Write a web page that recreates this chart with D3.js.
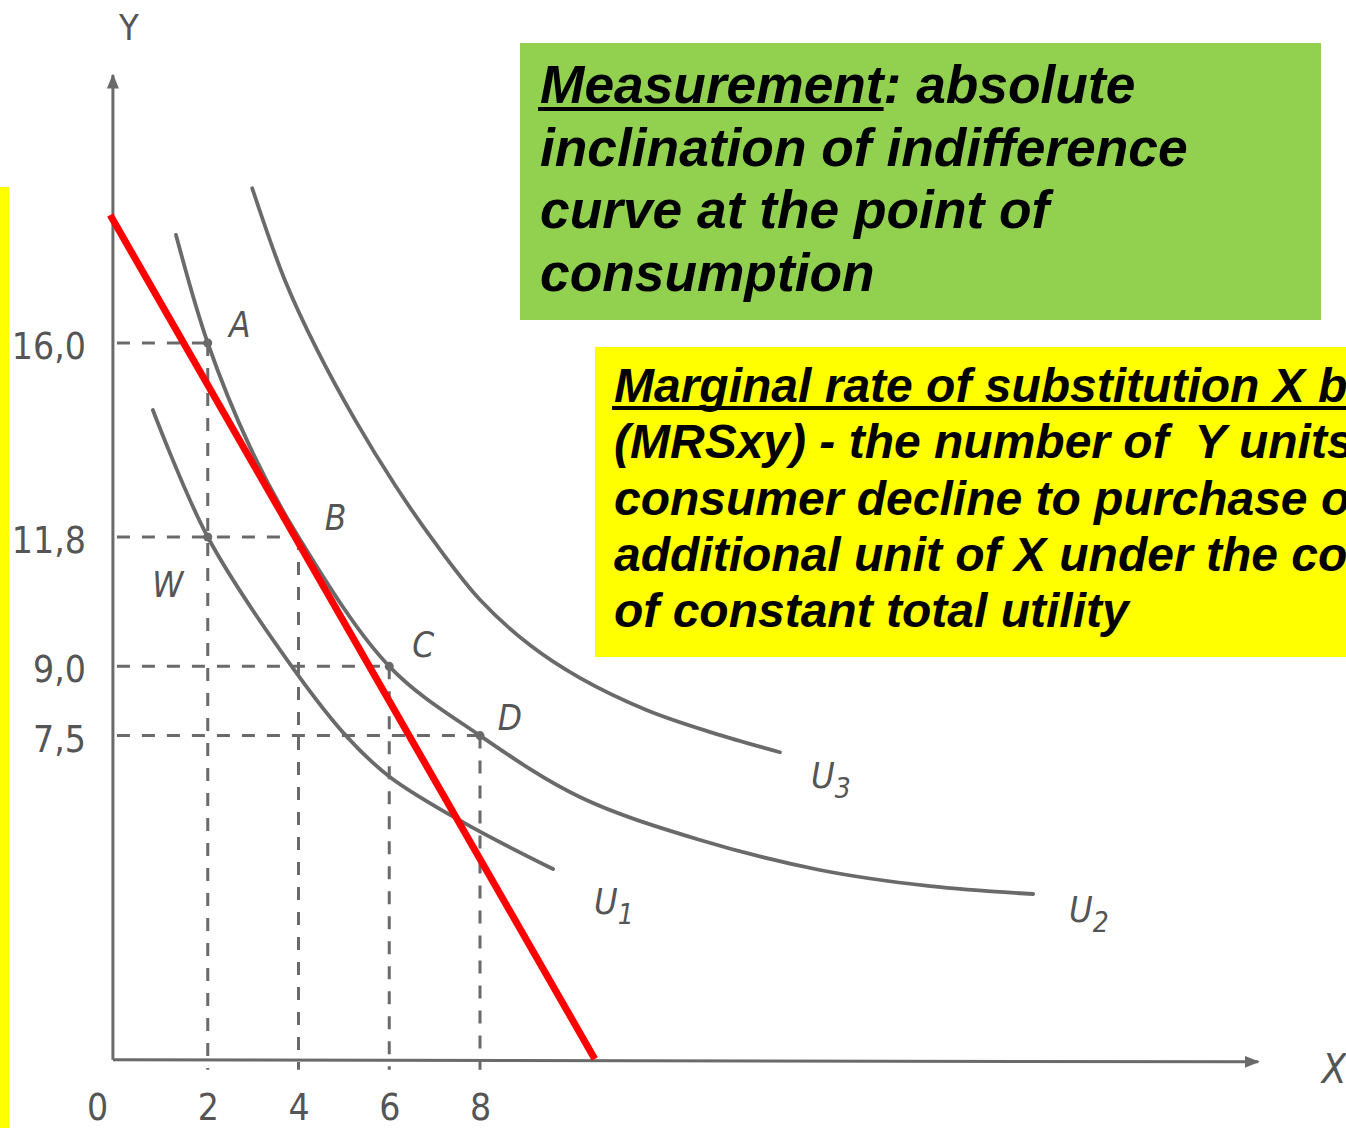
<!DOCTYPE html>
<html>
<head>
<meta charset="utf-8">
<script src="https://cdn.jsdelivr.net/npm/d3@7"></script>
<style>
  html, body { margin: 0; padding: 0; background: #ffffff; overflow: hidden; }
  svg { display: block; }
  .box-text { font-family: "Liberation Sans", Arial, sans-serif; font-weight: bold; font-style: italic; white-space: pre; }
  .scan { font-family: "DejaVu Sans Condensed", "DejaVu Sans", sans-serif; fill: #555555; }
</style>
</head>
<body>
<script>
// ---------------- data ----------------
const xTickValues = [0, 2, 4, 6, 8];
const xTickLabels = ["0", "2", "4", "6", "8"];
const yTickValues = [16.0, 11.8, 9.0, 7.5];
const yTickLabels = ["16,0", "11,8", "9,0", "7,5"];

// indifference curves (X, Y)
const curveU1 = [[0.79, 14.55], [2.0, 11.8], [3.85, 9.0], [5.09, 7.45], [6.02, 6.6], [7.65, 5.61], [9.61, 4.61]];
const curveU2 = [[1.3, 18.34], [2.0, 16.0], [2.93, 13.75], [4.0, 11.8], [6.0, 9.0], [8.0, 7.5], [10.2, 6.17], [12.85, 5.24], [15.49, 4.59], [17.92, 4.24], [20.19, 4.07]];
const curveU3 = [[2.98, 19.35], [3.7, 17.36], [4.41, 15.85], [5.25, 14.33], [6.13, 12.92], [7.01, 11.67], [8.0, 10.44], [9.1, 9.46], [10.2, 8.75], [11.68, 8.05], [13.13, 7.56], [14.61, 7.14]];

// tangent red line endpoints
const redLine = [[-0.15, 18.77], [10.53, 0.5]];

// consumption points
const pointNames = ["A", "B", "C", "D", "W"];
const pointX = [2, 4, 6, 8, 2];
const pointY = [16.0, 11.8, 9.0, 7.5, 11.8];

const curveNames = ["U", "U", "U"];
const curveSubs = ["1", "2", "3"];

const greenLines = [
  ["Measurement", ": absolute"],
  ["", "inclination of indifference"],
  ["", "curve at the point of"],
  ["", "consumption"]
];
const yellowLines = [
  ["Marginal rate of substitution X b", ""],
  ["", "(MRSxy) - the number of  Y units"],
  ["", "consumer decline to purchase o"],
  ["", "additional unit of X under the co"],
  ["", "of constant total utility"]
];

// ---------------- layout ----------------
const W = 1346, H = 1128;
const svg = d3.select("body").append("svg").attr("width", W).attr("height", H);

const x = d3.scaleLinear().domain([0, 8]).range([117, 480]);
const y = d3.scaleLinear().domain([0, 16]).range([1082, 343]);

const gray = "#6a6a6a";
const axisY0 = 0.48;   // data value where the X axis line sits
const axisX0 = -0.09;  // data value where the Y axis line sits

// dashed guide lines
const guides = svg.append("g").attr("stroke", gray).attr("stroke-width", 3)
  .attr("stroke-dasharray", "13,12").attr("fill", "none");
[0, 1, 2, 3].forEach(i => {
  guides.append("line")
    .attr("x1", x(axisX0) + 4).attr("y1", y(pointY[i]))
    .attr("x2", x(pointX[i])).attr("y2", y(pointY[i]));
  guides.append("line")
    .attr("x1", x(pointX[i])).attr("y1", y(pointY[i]))
    .attr("x2", x(pointX[i])).attr("y2", y(axisY0) + 10);
});

// axes lines with arrows
const defs = svg.append("defs");
defs.append("marker").attr("id", "arrow").attr("viewBox", "0 0 10 10")
  .attr("refX", 9).attr("refY", 5).attr("markerWidth", 5).attr("markerHeight", 5)
  .attr("orient", "auto-start-reverse")
  .append("path").attr("d", "M0,1 L10,5 L0,9 Z").attr("fill", gray);

svg.append("line")
  .attr("x1", x(axisX0)).attr("y1", y(axisY0))
  .attr("x2", x(25.15)).attr("y2", y(axisY0) + 2)
  .attr("stroke", gray).attr("stroke-width", 3).attr("marker-end", "url(#arrow)");
svg.append("line")
  .attr("x1", x(axisX0)).attr("y1", y(axisY0))
  .attr("x2", x(axisX0)).attr("y2", y(21.8))
  .attr("stroke", gray).attr("stroke-width", 3).attr("marker-end", "url(#arrow)");

// tick labels via d3 axes
const yAxis = d3.axisLeft(y).tickValues(yTickValues)
  .tickFormat((d, i) => yTickLabels[i]).tickSize(0).tickPadding(27);
const gy = svg.append("g").attr("transform", `translate(${x(axisX0)},0)`).call(yAxis);
gy.select(".domain").remove();
gy.selectAll("text").attr("class", "scan").attr("font-size", 37).attr("dy", "0.42em")
  .attr("fill", "#555555");

const xAxis = d3.axisBottom(x).tickValues(xTickValues)
  .tickFormat((d, i) => xTickLabels[i]).tickSize(0).tickPadding(34);
const gx = svg.append("g").attr("transform", `translate(0,${y(axisY0)})`).call(xAxis);
gx.select(".domain").remove();
gx.selectAll("text").attr("class", "scan").attr("font-size", 37).attr("fill", "#555555");
gx.selectAll(".tick").filter(d => d === 0).select("text").attr("x", -20);

// axis names
svg.append("text").attr("class", "scan").attr("x", x(axisX0) + 16).attr("y", 40)
  .attr("font-size", 36).attr("text-anchor", "middle").text("Y");
svg.append("text").attr("class", "scan").attr("x", 1334).attr("y", 1083)
  .attr("font-size", 40).attr("font-style", "italic").attr("text-anchor", "middle").text("X");

// indifference curves
const line = d3.line().x(d => x(d[0])).y(d => y(d[1])).curve(d3.curveCatmullRom.alpha(0.5));
[curveU1, curveU2, curveU3].forEach(c => {
  svg.append("path").attr("d", line(c)).attr("fill", "none")
    .attr("stroke", gray).attr("stroke-width", 3.8).attr("stroke-linecap", "round");
});

// curve labels
const curveEnds = [curveU1, curveU2, curveU3].map(c => c[c.length - 1]);
const curveLabelOffsets = [[41, 45], [36, 28], [31, 36]];
curveEnds.forEach((e, i) => {
  const t = svg.append("text").attr("class", "scan").attr("font-style", "italic")
    .attr("font-size", 36)
    .attr("x", x(e[0]) + curveLabelOffsets[i][0]).attr("y", y(e[1]) + curveLabelOffsets[i][1]);
  t.append("tspan").text(curveNames[i]);
  t.append("tspan").attr("font-size", 28).attr("dy", 10).text(curveSubs[i]);
});

// point markers
pointNames.forEach((n, i) => {
  if (n === "B") return;
  svg.append("circle").attr("cx", x(pointX[i])).attr("cy", y(pointY[i])).attr("r", 4.5)
    .attr("fill", gray);
});

// point labels
const labelOffsets = { A: [32, -18], B: [37, -19], C: [34, -21], D: [30, -18], W: [-40, 48] };
pointNames.forEach((n, i) => {
  svg.append("text").attr("class", "scan").attr("font-style", "italic").attr("font-size", 35)
    .attr("text-anchor", "middle")
    .attr("x", x(pointX[i]) + labelOffsets[n][0]).attr("y", y(pointY[i]) + labelOffsets[n][1] + 12)
    .text(n);
});

// red tangent line
svg.append("line")
  .attr("x1", x(redLine[0][0])).attr("y1", y(redLine[0][1]))
  .attr("x2", x(redLine[1][0])).attr("y2", y(redLine[1][1]))
  .attr("stroke", "#ff0000").attr("stroke-width", 7);

// text boxes
function textBox(bx, by, bw, bh, fill, lines, tx, ty0, lh, fs, ulOffset) {
  svg.append("rect").attr("x", bx).attr("y", by).attr("width", bw).attr("height", bh).attr("fill", fill);
  lines.forEach((ln, i) => {
    const t = svg.append("text").attr("class", "box-text").attr("font-size", fs)
      .attr("x", tx).attr("y", ty0 + i * lh).attr("fill", "#000");
    t.append("tspan").text(ln[0]);
    t.append("tspan").text(ln[1]);
    if (ln[0]) {
      const node = t.node();
      const wU = node.getSubStringLength(0, ln[0].length);
      svg.append("rect").attr("x", tx - 2).attr("y", ty0 + i * lh + ulOffset)
        .attr("width", wU + 2).attr("height", 4).attr("fill", "#000");
    }
  });
}
textBox(520, 43, 801, 277, "#92d050", greenLines, 540, 103, 62.7, 53.3, 4);
textBox(595, 347, 751, 310, "#ffff00", yellowLines, 614, 402, 56.3, 48, 4);

// yellow strip on the left edge
svg.append("rect").attr("x", 0).attr("y", 187).attr("width", 9).attr("height", H - 187).attr("fill", "#ffff00");
</script>
</body>
</html>
